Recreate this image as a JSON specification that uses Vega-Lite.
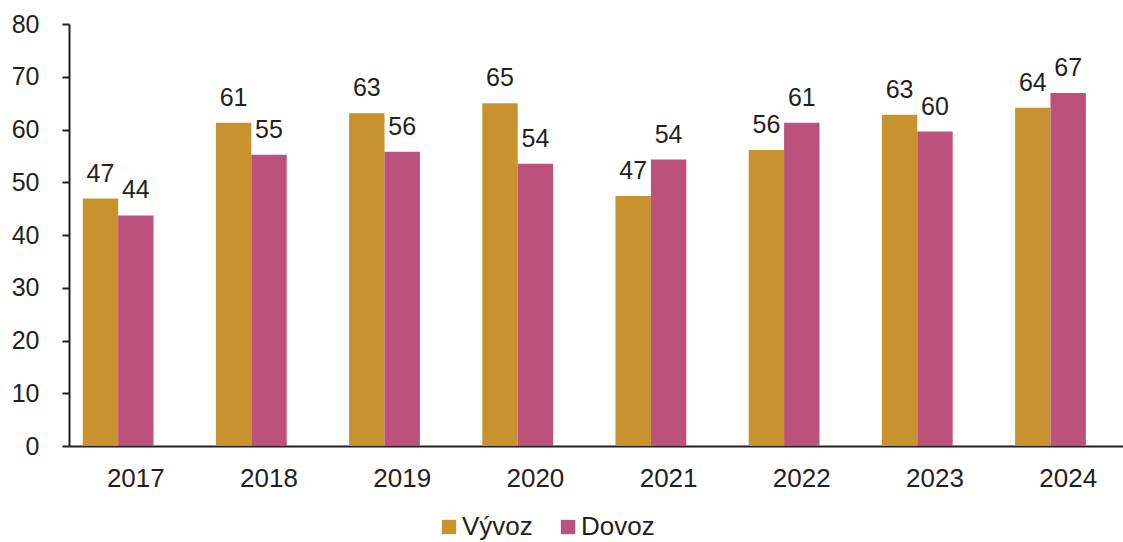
{
  "$schema": "https://vega.github.io/schema/vega-lite/v6.json",
  "autosize": {"type": "none"},
  "padding": {"left": 69, "top": 24, "right": 0, "bottom": 96},
  "width": 1054,
  "height": 422,
  "background": "white",
  "config": {
    "view": {"stroke": null},
    "font": "Liberation Sans"
  },
  "data": {
    "values": [
      {"rok": "2017", "typ": "Vývoz", "hodnota": 46.9},
      {"rok": "2017", "typ": "Dovoz", "hodnota": 43.7},
      {"rok": "2018", "typ": "Vývoz", "hodnota": 61.3},
      {"rok": "2018", "typ": "Dovoz", "hodnota": 55.2},
      {"rok": "2019", "typ": "Vývoz", "hodnota": 63.1},
      {"rok": "2019", "typ": "Dovoz", "hodnota": 55.8},
      {"rok": "2020", "typ": "Vývoz", "hodnota": 65.0},
      {"rok": "2020", "typ": "Dovoz", "hodnota": 53.5},
      {"rok": "2021", "typ": "Vývoz", "hodnota": 47.4},
      {"rok": "2021", "typ": "Dovoz", "hodnota": 54.3},
      {"rok": "2022", "typ": "Vývoz", "hodnota": 56.1},
      {"rok": "2022", "typ": "Dovoz", "hodnota": 61.3},
      {"rok": "2023", "typ": "Vývoz", "hodnota": 62.8},
      {"rok": "2023", "typ": "Dovoz", "hodnota": 59.6},
      {"rok": "2024", "typ": "Vývoz", "hodnota": 64.1},
      {"rok": "2024", "typ": "Dovoz", "hodnota": 66.9}
    ]
  },
  "encoding": {
    "x": {
      "field": "rok", "type": "nominal",
      "scale": {"range": [0, 1066], "paddingInner": 0.2027, "paddingOuter": 0.103},
      "axis": {
        "title": null, "labelAngle": 0, "labelFontSize": 26, "labelColor": "#231F20",
        "ticks": false, "domainColor": "#231F20", "domainWidth": 2, "labelPadding": 19
      }
    },
    "xOffset": {
      "field": "typ", "type": "nominal",
      "scale": {"domain": ["Vývoz", "Dovoz", "_"], "paddingInner": 0, "paddingOuter": 0}
    },
    "y": {
      "field": "hodnota", "type": "quantitative",
      "scale": {"domain": [0, 80]},
      "axis": {
        "title": null, "values": [0, 10, 20, 30, 40, 50, 60, 70, 80], "grid": false,
        "labelFontSize": 25, "labelColor": "#231F20", "domainColor": "#231F20", "domainWidth": 2,
        "tickColor": "#231F20", "tickWidth": 2, "tickSize": 7, "labelPadding": 23
      }
    }
  },
  "layer": [
    {
      "mark": {"type": "bar"},
      "encoding": {
        "color": {
          "field": "typ", "type": "nominal",
          "scale": {"domain": ["Vývoz", "Dovoz"], "range": ["#C8922E", "#BC527C"]},
          "legend": {
            "title": null, "orient": "none", "direction": "horizontal",
            "legendX": 367, "legendY": 490, "symbolType": "square", "symbolSize": 205,
            "labelFontSize": 26, "labelColor": "#231F20", "labelOffset": 0, "columnPadding": 22,
            "symbolStrokeWidth": 0, "symbolOpacity": 1, "padding": 0
          }
        }
      }
    },
    {
      "mark": {"type": "text", "baseline": "alphabetic", "dy": -17, "fontSize": 25, "color": "#231F20"},
      "encoding": {
        "text": {"field": "hodnota", "type": "quantitative", "format": ".0f"}
      }
    }
  ]
}
